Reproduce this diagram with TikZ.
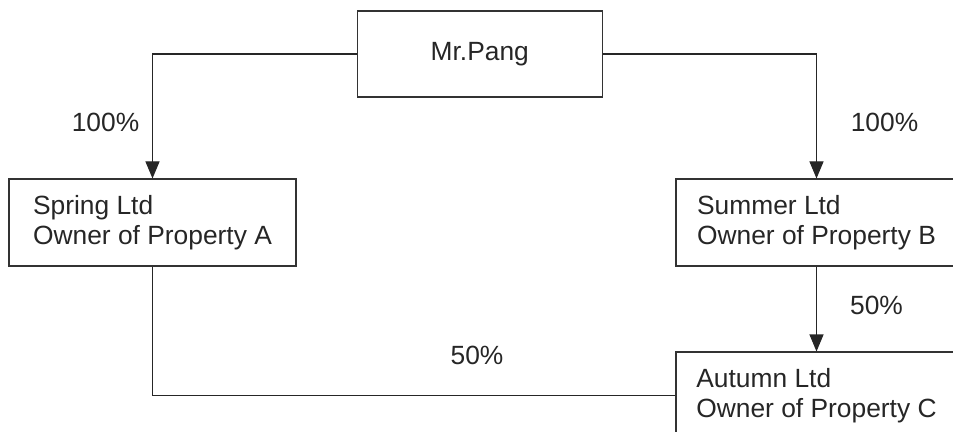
\documentclass[tikz,border=0pt]{standalone}
\usepackage{fontspec}
\setmainfont{Liberation Sans}
\usetikzlibrary{arrows.meta,positioning}

\begin{document}
\begin{tikzpicture}[
    every node/.style={
      font=\fontsize{15}{17}\selectfont,
      text=black!85
    },
    company/.style={
      draw=black!80, line width=0.6pt,
      align=left,
      minimum height=1.74cm
    },
    owner/.style={
      draw=black!80, line width=0.6pt,
      minimum width=4.9cm,
      minimum height=1.72cm
    },
    share/.style={inner sep=0pt},
    holds/.style={draw=black!85, line width=0.6pt, -{Triangle[width=0.28cm,length=0.34cm]}},
    link/.style={draw=black!85, line width=0.6pt}
  ]

  % page frame, the two right boxes run off it
  \useasboundingbox (0,0) rectangle (19.06,-8.64);
  \clip (0,0) rectangle (19.06,-8.64);

  % Top
  \node[owner] (pang) at (9.595,-1.08) {Mr.Pang};

  % Companies
  \node[company, minimum width=5.74cm] (spring) at (3.05,-4.45)
    {Spring Ltd\\Owner of Property A};
  \node[company, minimum width=5.62cm] (summer) at (16.33,-4.45)
    {Summer Ltd\\Owner of Property B};
  \node[company, minimum width=5.62cm] (autumn) at (16.33,-7.91)
    {Autumn Ltd\\Owner of Property C};

  % Shareholdings
  \draw[holds] (pang.west) -| (spring.north);
  \draw[holds] (pang.east) -| (summer.north);
  \draw[holds] (summer.south) -- (autumn.north);
  \draw[link] (spring.south) |- (autumn.west);

  \node[share] (pctA) at (2.11,-2.44) {100\%};
  \node[share] (pctB) at (17.69,-2.44) {100\%};
  \node[share] (pctC) at (17.53,-6.1) {50\%};
  \node[share] (pctD) at (9.54,-7.11) {50\%};

\end{tikzpicture}
\end{document}
